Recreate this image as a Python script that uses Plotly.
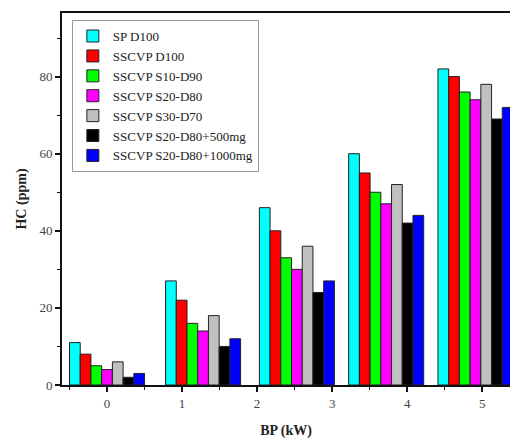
import plotly.graph_objects as go

# ---- data ----
bp_positions = [0.0, 1.28, 2.53, 3.72, 4.91]
bp_ticks = [0, 1, 2, 3, 4, 5]
series_names = ["SP D100", "SSCVP D100", "SSCVP S10-D90", "SSCVP S20-D80",
                "SSCVP S30-D70", "SSCVP S20-D80+500mg", "SSCVP S20-D80+1000mg"]
sp_d100 = [11, 27, 46, 60, 82]
sscvp_d100 = [8, 22, 40, 55, 80]
sscvp_s10_d90 = [5, 16, 33, 50, 76]
sscvp_s20_d80 = [4, 14, 30, 47, 74]
sscvp_s30_d70 = [6, 18, 36, 52, 78]
sscvp_s20_d80_500 = [2, 10, 24, 42, 69]
sscvp_s20_d80_1000 = [3, 12, 27, 44, 72]

series_values = [sp_d100, sscvp_d100, sscvp_s10_d90, sscvp_s20_d80,
                 sscvp_s30_d70, sscvp_s20_d80_500, sscvp_s20_d80_1000]
colors = ["#00FFFF", "#FF0000", "#00FF00", "#FF00FF", "#C0C0C0", "#000000", "#0000FF"]

n = len(series_names)
w = 1.0 / n
font_family = "Liberation Serif, Times New Roman, serif"

fig = go.Figure()
for i, (name, vals, col) in enumerate(zip(series_names, series_values, colors)):
    fig.add_trace(go.Bar(
        x=bp_positions, y=vals, name=name,
        width=w, offset=-0.5 + i * w,
        marker=dict(color=col, line=dict(color="#222222", width=1)),
    ))

fig.update_layout(
    width=510, height=439,
    margin=dict(l=62, r=0, t=13, b=54),
    paper_bgcolor="white", plot_bgcolor="white",
    barmode="overlay",
    hovermode=False,
    font=dict(family=font_family, size=13, color="#333333"),
    showlegend=True,
    legend=dict(
        x=0.022, y=0.981, xanchor="left", yanchor="top",
        bgcolor="white", bordercolor="#999999", borderwidth=1,
        font=dict(family=font_family, size=13, color="#222222"),
        tracegroupgap=0, itemwidth=30,
    ),
    xaxis=dict(
        range=[-0.6, 5.37], tickmode="array", tickvals=bp_ticks,
        ticktext=[str(t) for t in bp_ticks],
        showgrid=False, zeroline=False,
        showline=True, linecolor="#111111", linewidth=2, mirror=True,
        ticks="outside", ticklen=5, tickwidth=1.5, tickcolor="#111111",
        minor=dict(tickvals=[t + 0.5 for t in [-1] + bp_ticks], ticks="outside", ticklen=3,
                   tickwidth=1, tickcolor="#111111"),
        tickfont=dict(family=font_family, size=13, color="#444444"),
        title=dict(text="<b>BP (kW)</b>", font=dict(family=font_family, size=14, color="#222222"),
                   standoff=18),
    ),
    yaxis=dict(
        range=[0, 96.5], tickvals=[0, 20, 40, 60, 80],
        showgrid=False, zeroline=False,
        showline=True, linecolor="#111111", linewidth=2, mirror=False,
        ticks="outside", ticklen=5, tickwidth=1.5, tickcolor="#111111",
        minor=dict(tickvals=[10, 30, 50, 70, 90], ticks="outside", ticklen=3,
                   tickwidth=1, tickcolor="#111111"),
        tickfont=dict(family=font_family, size=13, color="#444444"),
        title=dict(text="<b>HC (ppm)</b>", font=dict(family=font_family, size=14, color="#222222"),
                   standoff=10),
    ),
)

# remove the browser's default page margin so the 510x439 figure fills the window
fig.write_html("out.html",
               config={"displayModeBar": False},
               post_script="document.body.style.margin='0';document.body.style.overflow='hidden';")
